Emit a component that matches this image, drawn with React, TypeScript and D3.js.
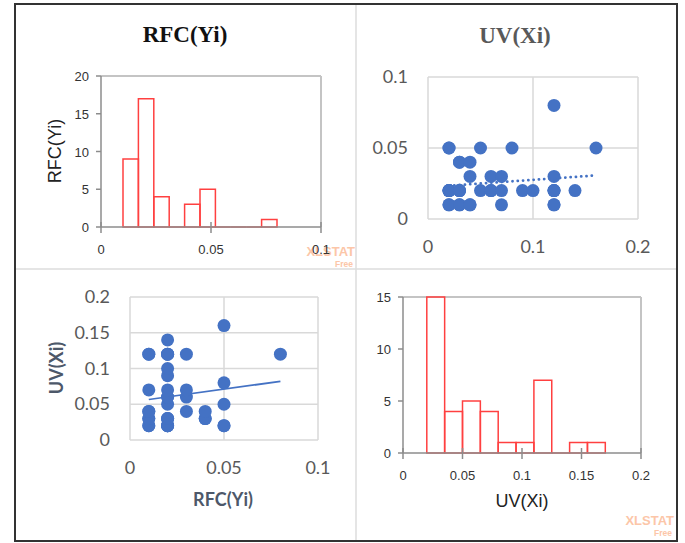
import React from "react";
import * as d3 from "d3";

const uvValues = [
  0.02, 0.02, 0.03, 0.03, 0.04, 0.04, 0.07, 0.12, 0.12,
  0.02, 0.02, 0.02, 0.02, 0.03, 0.03, 0.03, 0.05, 0.06, 0.06, 0.07, 0.09, 0.1, 0.12, 0.12, 0.12, 0.14,
  0.04, 0.06, 0.07, 0.12,
  0.03, 0.03, 0.04,
  0.02, 0.02, 0.05, 0.08, 0.16,
  0.12,
];
const rfcValues = [
  0.01, 0.01, 0.01, 0.01, 0.01, 0.01, 0.01, 0.01, 0.01,
  0.02, 0.02, 0.02, 0.02, 0.02, 0.02, 0.02, 0.02, 0.02, 0.02, 0.02, 0.02, 0.02, 0.02, 0.02, 0.02, 0.02,
  0.03, 0.03, 0.03, 0.03,
  0.04, 0.04, 0.04,
  0.05, 0.05, 0.05, 0.05, 0.05,
  0.08,
];

// histogram counts
const rfcBinStart = 0.01;
const rfcBinWidth = 0.007;
const rfcCounts = [9, 17, 4, 0, 3, 5, 0, 0, 0, 1];
const uvBinStart = 0.02;
const uvBinWidth = 0.015;
const uvCounts = [15, 4, 5, 4, 1, 1, 7, 0, 1, 1];

// ticks
const rfcHistXTicks = [0, 0.05, 0.1];
const rfcHistYTicks = [0, 5, 10, 15, 20];
const uvHistXTicks = [0, 0.05, 0.1, 0.15, 0.2];
const uvHistYTicks = [0, 5, 10, 15];
const uvScatterXTicks = [0, 0.1, 0.2];
const uvScatterYTicks = [0, 0.05, 0.1];
const rfcScatterXTicks = [0, 0.05, 0.1];
const rfcScatterYTicks = [0, 0.05, 0.1, 0.15, 0.2];

const blue = "#4472c4";
const red = "#ff4040";
const tickGray = "#595959";
const gridGray = "#d9d9d9";
const titleBlue = "#4d5869";

function fit(xs: number[], ys: number[]) {
  const mx = d3.mean(xs)!;
  const my = d3.mean(ys)!;
  const sxy = d3.sum(xs, (x, i) => (x - mx) * (ys[i] - my));
  const sxx = d3.sum(xs, (x) => (x - mx) * (x - mx));
  const slope = sxy / sxx;
  return { slope, intercept: my - slope * mx };
}

function Watermark({ x, y }: { x: number; y: number }) {
  return (
    <g fill="#fcc6a8" fontFamily="Liberation Sans, Arial, sans-serif" fontWeight="bold" textAnchor="end">
      <text x={x} y={y} fontSize={13}>XLSTAT</text>
      <text x={x - 2} y={y + 11} fontSize={8.5}>Free</text>
    </g>
  );
}

function Histogram({ counts, start, width, xDomain, yDomain, xTicks, yTicks, box, fmtX }: any) {
  const x = d3.scaleLinear().domain(xDomain).range([box.left, box.right]);
  const y = d3.scaleLinear().domain(yDomain).range([box.bottom, box.top]);
  const y0 = y(0);
  return (
    <g>
      <line x1={box.left} x2={box.right} y1={box.top} y2={box.top} stroke="#c4c4c4" strokeWidth={2} />
      <line x1={box.right} x2={box.right} y1={box.top} y2={box.bottom} stroke="#c4c4c4" strokeWidth={2} />
      {counts.map((c: number, i: number) => {
        const a = x(start + i * width);
        const b = x(start + (i + 1) * width);
        return (
          <path key={i} d={`M${a},${y0}V${y(c)}H${b}V${y0}Z`} fill="none" stroke={red} strokeWidth={1.5} />
        );
      })}
      <line x1={box.left} x2={box.right} y1={y0} y2={y0} stroke="#8c8c8c" strokeWidth={1.5} />
      <line x1={box.left} x2={box.left} y1={box.top} y2={box.bottom} stroke="#8c8c8c" strokeWidth={1.5} />
      {yTicks.map((t: number) => (
        <g key={t}>
          <line x1={box.left - 5} x2={box.left} y1={y(t)} y2={y(t)} stroke="#8c8c8c" strokeWidth={1.5} />
          <text x={box.left - 12} y={y(t) + 5} textAnchor="end" fontSize={13} fill="#333"
            fontFamily="Liberation Sans, Arial, sans-serif">{t}</text>
        </g>
      ))}
      {xTicks.map((t: number) => (
        <g key={t}>
          <line x1={x(t)} x2={x(t)} y1={y0 - 5} y2={y0 + 6} stroke="#8c8c8c" strokeWidth={1.5} />
          <text x={x(t)} y={y0 + 27} textAnchor="middle" fontSize={13} fill="#333"
            fontFamily="Liberation Sans, Arial, sans-serif">{fmtX(t)}</text>
        </g>
      ))}
    </g>
  );
}

function Scatter({ xs, ys, xDomain, yDomain, xTicks, yTicks, box, dotted, labelY }: any) {
  const x = d3.scaleLinear().domain(xDomain).range([box.left, box.right]);
  const y = d3.scaleLinear().domain(yDomain).range([box.bottom, box.top]);
  const { slope, intercept } = fit(xs, ys);
  const ends = d3.extent(xs) as [number, number];
  const line = d3.line<number>().x((v) => x(v)).y((v) => y(intercept + slope * v));
  const font = "Lato, Liberation Sans, sans-serif";
  return (
    <g>
      {yTicks.map((t: number) => (
        <g key={"y" + t}>
          <line x1={box.left} x2={box.right} y1={y(t)} y2={y(t)} stroke={gridGray} strokeWidth={1.5} />
          <text x={box.left - 20} y={y(t) + 6} textAnchor="end" fontSize={18} fill={tickGray} fontFamily={font}>{t}</text>
        </g>
      ))}
      {xTicks.map((t: number) => (
        <g key={"x" + t}>
          <line x1={x(t)} x2={x(t)} y1={box.top} y2={box.bottom} stroke={gridGray} strokeWidth={1.5} />
          <text x={x(t)} y={labelY} textAnchor="middle" fontSize={18} fill={tickGray} fontFamily={font}>{t}</text>
        </g>
      ))}
      {dotted ? null : (
        <path d={line(ends)!} fill="none" stroke={blue} strokeWidth={1.75} />
      )}
      {xs.map((v: number, i: number) => (
        <circle key={i} cx={x(v)} cy={y(ys[i])} r={6.5} fill={blue} />
      ))}
      {dotted ? (
        <path d={line(ends)!} fill="none" stroke={blue} strokeWidth={2.75} strokeDasharray="0.1 5.2" strokeLinecap="round" />
      ) : null}
    </g>
  );
}

export default function App() {
  const fmt = (t: number) => String(t);
  return (
    <svg width={685} height={543} style={{ position: "absolute", left: 0, top: 0, background: "#fff" }}>
      <rect x={0} y={0} width={685} height={543} fill="#fff" />
      {/* panel dividers */}
      <line x1={356} x2={356} y1={4} y2={541} stroke="#dcdcdc" strokeWidth={1.5} />
      <line x1={15} x2={677} y1={269} y2={269} stroke="#dcdcdc" strokeWidth={1.5} />

      {/* top left: RFC histogram */}
      <text x={185} y={42} textAnchor="middle" fontSize={23} fontWeight="bold"
        fontFamily="Liberation Serif, Times New Roman, serif" fill="#111">RFC(Yi)</text>
      <Watermark x={355} y={256} />
      <Histogram counts={rfcCounts} start={rfcBinStart} width={rfcBinWidth} xDomain={[0, 0.1]} yDomain={[0, 20]}
        xTicks={rfcHistXTicks} yTicks={rfcHistYTicks} box={{ left: 101, right: 321, top: 76, bottom: 227 }} fmtX={fmt} />
      <text transform="translate(61,151) rotate(-90)" textAnchor="middle" fontSize={18} fill="#222"
        fontFamily="Liberation Sans, Arial, sans-serif">RFC(Yi)</text>

      {/* top right: UV vs RFC scatter */}
      <text x={515} y={43} textAnchor="middle" fontSize={23} fontWeight="bold"
        fontFamily="Liberation Serif, Times New Roman, serif" fill={tickGray}>UV(Xi)</text>
      <Scatter xs={uvValues} ys={rfcValues} xDomain={[0, 0.2]} yDomain={[0, 0.1]} xTicks={uvScatterXTicks}
        yTicks={uvScatterYTicks} box={{ left: 428, right: 638, top: 77, bottom: 219 }} dotted={true} labelY={253} />

      {/* bottom left: RFC vs UV scatter */}
      <Scatter xs={rfcValues} ys={uvValues} xDomain={[0, 0.1]} yDomain={[0, 0.2]} xTicks={rfcScatterXTicks}
        yTicks={rfcScatterYTicks} box={{ left: 130, right: 318, top: 297, bottom: 440 }} dotted={false} labelY={474} />
      <text transform="translate(63,368) rotate(-90)" textAnchor="middle" fontSize={18} fontWeight="bold"
        fill={titleBlue} fontFamily="Lato, Liberation Sans, sans-serif">UV(Xi)</text>
      <text x={223} y={506} textAnchor="middle" fontSize={18} fontWeight="bold" fill={titleBlue}
        fontFamily="Lato, Liberation Sans, sans-serif">RFC(Yi)</text>

      {/* bottom right: UV histogram */}
      <Histogram counts={uvCounts} start={uvBinStart} width={uvBinWidth} xDomain={[0, 0.2]} yDomain={[0, 15]}
        xTicks={uvHistXTicks} yTicks={uvHistYTicks} box={{ left: 403, right: 641, top: 297, bottom: 453 }} fmtX={fmt} />
      <text x={522} y={507} textAnchor="middle" fontSize={18} fill="#222"
        fontFamily="Liberation Sans, Arial, sans-serif">UV(Xi)</text>
      <Watermark x={674} y={525} />

      {/* outer frame */}
      <rect x={15} y={4} width={662} height={537} fill="none" stroke="#333" strokeWidth={2} />
    </svg>
  );
}
